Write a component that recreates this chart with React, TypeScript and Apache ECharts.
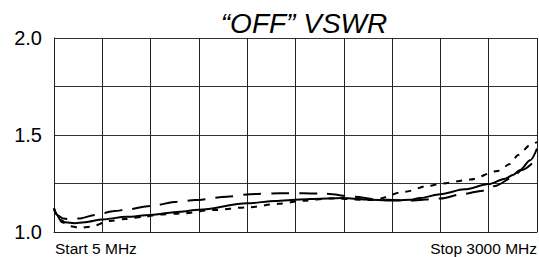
import React, { useEffect, useRef } from "react";
import * as echarts from "echarts";

// x positions are in percent of the 5–3000 MHz span
const titleText = "“OFF” VSWR";
const startLabel = "Start 5 MHz";
const stopLabel = "Stop 3000 MHz";
const yTicks = [1.0, 1.5, 2.0];

const solidX = [0, 0.6, 1.2, 2.3, 4.3, 6.4, 10, 15, 19.9, 26, 30, 40, 45.8, 51, 55, 60, 64.4, 70, 73.7, 75.8, 80, 85, 90, 93.4, 95, 96.5, 98.6, 100];
const solidY = [1.124, 1.09, 1.065, 1.05, 1.045, 1.05, 1.065, 1.078, 1.088, 1.105, 1.115, 1.148, 1.16, 1.168, 1.172, 1.175, 1.168, 1.162, 1.166, 1.175, 1.195, 1.22, 1.247, 1.275, 1.294, 1.32, 1.37, 1.43];

const dashX = [0, 0.8, 1.9, 2.9, 5.4, 8.5, 12.6, 15, 19.9, 25.5, 29.2, 35.8, 40.6, 46.8, 51.6, 56, 62.3, 66.5, 73.7, 80, 84.7, 88.8, 91.3, 94.8, 96.9, 100];
const dashY = [1.12, 1.085, 1.07, 1.067, 1.07, 1.088, 1.108, 1.115, 1.134, 1.156, 1.165, 1.182, 1.195, 1.2, 1.2, 1.197, 1.182, 1.168, 1.162, 1.173, 1.196, 1.213, 1.237, 1.278, 1.32, 1.38];

const dotX = [0, 0.6, 1.7, 3.3, 5.4, 7.5, 11.6, 14.7, 18.8, 21.9, 26.5, 32.9, 40, 46.4, 51.6, 57.1, 66, 72.7, 77.4, 80.3, 86.1, 91.9, 94.4, 96.1, 98.6, 100];
const dotY = [1.12, 1.08, 1.05, 1.03, 1.022, 1.027, 1.057, 1.067, 1.079, 1.09, 1.096, 1.113, 1.127, 1.145, 1.161, 1.173, 1.165, 1.208, 1.237, 1.25, 1.27, 1.315, 1.35, 1.397, 1.448, 1.464];

const pairs = (xs: number[], ys: number[]) => xs.map((x, i) => [x, ys[i]]);

export default function App() {
  const ref = useRef<HTMLDivElement>(null);
  useEffect(() => {
    if (!ref.current) return;
    const chart = echarts.init(ref.current, null, { renderer: "svg" });
    const font = "Liberation Sans, Arial, sans-serif";
    const lineCommon = {
      type: "line",
      showSymbol: false,
      smooth: 0.3,
      smoothMonotone: "x",
      silent: true,
    };
    chart.setOption({
      animation: false,
      backgroundColor: "#ffffff",
      grid: { left: 54, top: 38, width: 483, height: 194, containLabel: false },
      xAxis: {
        type: "value",
        min: 0,
        max: 100,
        interval: 10,
        axisLabel: { show: false },
        axisTick: { show: false },
        axisLine: { show: true, lineStyle: { color: "#222", width: 1 } },
        splitLine: { show: true, lineStyle: { color: "#222", width: 1 } },
      },
      yAxis: {
        type: "value",
        min: 1,
        max: 2,
        interval: 0.25,
        axisTick: { show: false },
        axisLine: { show: true, lineStyle: { color: "#222", width: 1 } },
        splitLine: { show: true, lineStyle: { color: "#333", width: 1 } },
        axisLabel: {
          color: "#000",
          fontSize: 20,
          fontFamily: font,
          margin: 12,
          formatter: (v: number) =>
            yTicks.some((t) => Math.abs(t - v) < 1e-6) ? v.toFixed(1) : "",
        },
      },
      graphic: [
        {
          type: "text",
          x: 304,
          y: 23,
          style: {
            text: titleText,
            fill: "#000",
            font: `italic 28px ${font}`,
            textAlign: "center",
            textVerticalAlign: "middle",
          },
        },
        {
          type: "text",
          x: 55,
          y: 248,
          style: {
            text: startLabel,
            fill: "#000",
            font: `15.5px ${font}`,
            textAlign: "left",
            textVerticalAlign: "middle",
          },
        },
        {
          type: "text",
          x: 537,
          y: 248,
          style: {
            text: stopLabel,
            fill: "#000",
            font: `15.5px ${font}`,
            textAlign: "right",
            textVerticalAlign: "middle",
          },
        },
      ],
      series: [
        {
          ...lineCommon,
          name: "dashed",
          data: pairs(dashX, dashY),
          lineStyle: { color: "#000", width: 2, type: [18, 10] },
        },
        {
          ...lineCommon,
          name: "dotted",
          data: pairs(dotX, dotY),
          lineStyle: { color: "#000", width: 2, type: [6, 7] },
        },
        {
          ...lineCommon,
          name: "solid",
          data: pairs(solidX, solidY),
          lineStyle: { color: "#000", width: 2, type: "solid" },
        },
      ],
    });
    return () => chart.dispose();
  }, []);
  return (
    <div
      ref={ref}
      style={{ position: "fixed", left: 0, top: 0, width: 539, height: 257, background: "#fff" }}
    />
  );
}
